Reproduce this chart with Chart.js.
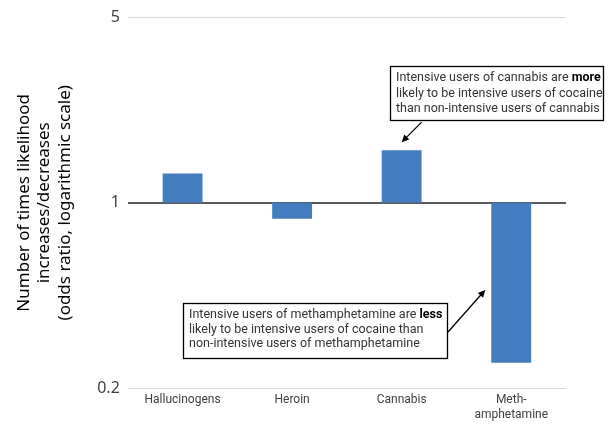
<!DOCTYPE html>
<html><head><meta charset="utf-8">
<script src="https://cdn.jsdelivr.net/npm/chart.js@4/dist/chart.umd.min.js"></script>
<style>html,body{margin:0;padding:0;background:#fff}#wrap{width:610px;height:426px}</style>
</head><body><div id="wrap"><canvas id="c" width="610" height="426"></canvas></div>
<script>
const categories = ['Hallucinogens', 'Heroin', 'Cannabis', ['Meth-', 'amphetamine']];
const oddsRatios = [1.29, 0.87, 1.58, 0.249];
const yTicks = [0.2, 1, 5];
const yTitle = ['Number of times likelihood', 'increases/decreases', '(odds ratio, logarithmic scale)'];
const note1 = [[['Intensive users of cannabis are ', false], ['more', true]], [['likely to be intensive users of cocaine', false]], [['than non-intensive users of cannabis', false]]];
const note2 = [[['Intensive users of methamphetamine are ', false], ['less', true]], [['likely to be intensive users of cocaine than', false]], [['non-intensive users of methamphetamine', false]]];

const FONT = "'Noto Sans', 'Open Sans', sans-serif";
const NFONT = "Roboto, 'Noto Sans', sans-serif";

function drawNote(ctx, lines, x, y, w, h, lh) {
  ctx.save();
  ctx.fillStyle = '#fff';
  ctx.fillRect(x, y, w, h);
  ctx.strokeStyle = '#000';
  ctx.lineWidth = 1.3;
  ctx.strokeRect(x + 0.5, y + 0.5, w, h);
  ctx.textBaseline = 'middle';
  lines.forEach((segs, i) => {
    let cx = x + 6;
    const cy = y + 12 + i * lh;
    segs.forEach(([t, b]) => {
      ctx.font = (b ? 'bold ' : '') + '12.5px ' + NFONT;
      ctx.fillStyle = b ? '#000' : '#333';
      ctx.fillText(t, cx, cy);
      cx += ctx.measureText(t).width;
    });
  });
  ctx.restore();
}
function arrow(ctx, x1, y1, x2, y2) {
  ctx.save();
  ctx.strokeStyle = '#000'; ctx.fillStyle = '#000'; ctx.lineWidth = 1.3;
  const a = Math.atan2(y2 - y1, x2 - x1);
  const hl = 8;
  ctx.beginPath(); ctx.moveTo(x1, y1);
  ctx.lineTo(x2 - Math.cos(a) * hl * 0.8, y2 - Math.sin(a) * hl * 0.8); ctx.stroke();
  ctx.beginPath(); ctx.moveTo(x2, y2);
  ctx.lineTo(x2 - hl * Math.cos(a - 0.45), y2 - hl * Math.sin(a - 0.45));
  ctx.lineTo(x2 - hl * Math.cos(a + 0.45), y2 - hl * Math.sin(a + 0.45));
  ctx.closePath(); ctx.fill();
  ctx.restore();
}

const notes = {
  id: 'notes',
  afterDraw(chart) {
    const ctx = chart.ctx;
    const xs = chart.scales.x, ys = chart.scales.y;
    const cx = xs.getPixelForValue(2), ctop = ys.getPixelForValue(oddsRatios[2]);
    arrow(ctx, cx + 20, ctop - 28, cx, ctop - 8);
    drawNote(ctx, note1, 390, 66, 213, 54, 15.5);
    const mx = xs.getPixelForValue(3);
    arrow(ctx, 448, 332, mx - 26, 290);
    drawNote(ctx, note2, 183, 303, 264, 55, 14.5);
  }
};

new Chart(document.getElementById('c'), {
  type: 'bar',
  data: {
    labels: categories,
    datasets: [{
      data: oddsRatios.map(v => [1, v]),
      backgroundColor: '#437DC0',
      borderWidth: 0,
      barPercentage: 0.364,
      categoryPercentage: 1
    }]
  },
  options: {
    responsive: false,
    animation: false,
    layout: { padding: { top: 8, right: 44, left: 14, bottom: 0 } },
    plugins: { legend: { display: false }, tooltip: { enabled: false } },
    scales: {
      x: {
        grid: { display: false, drawTicks: false },
        border: { display: false },
        ticks: { color: '#404040', font: { family: NFONT, size: 12, lineHeight: 1.25 }, padding: 4, maxRotation: 0 }
      },
      y: {
        type: 'logarithmic',
        min: 0.2, max: 5,
        afterBuildTicks: s => { s.ticks = yTicks.map(v => ({ value: v, major: true })); },
        ticks: {
          color: '#404040', font: { family: FONT, size: 16 }, padding: 8,
          callback: v => String(v)
        },
        grid: {
          drawTicks: false,
          color: c => (c.tick && c.tick.value === 1) ? '#595959' : '#d9d9d9',
          lineWidth: c => (c.tick && c.tick.value === 1) ? 2 : 1
        },
        border: { display: false },
        title: { display: true, text: yTitle, color: '#000', font: { family: FONT, size: 17, lineHeight: 1.2 }, padding: { top: 0, bottom: 14 } }
      }
    }
  },
  plugins: [notes]
});
</script></body></html>
